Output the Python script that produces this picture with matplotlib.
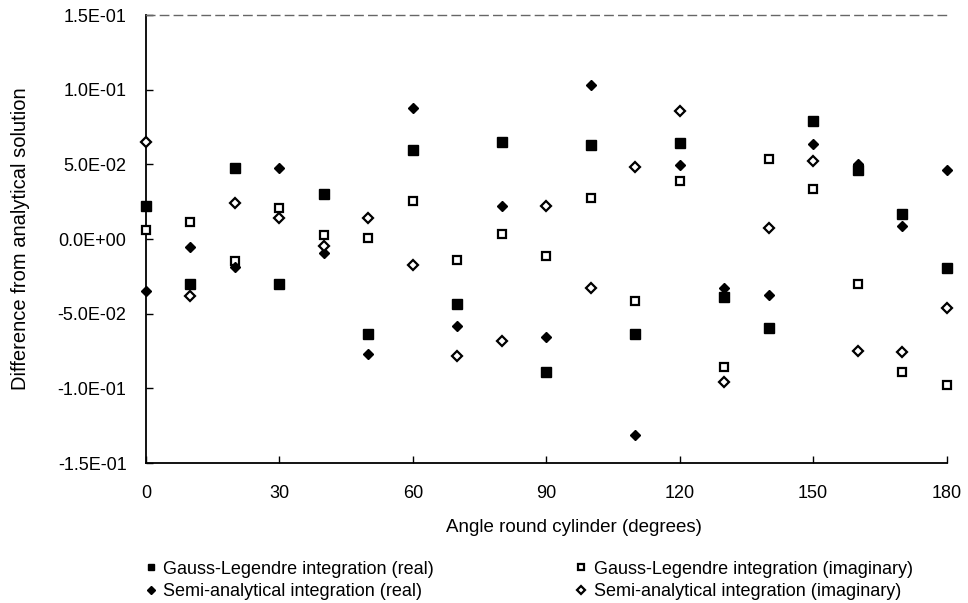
import matplotlib.pyplot as plt
from matplotlib.ticker import FuncFormatter

plt.rcParams['font.family'] = ['Liberation Sans', 'DejaVu Sans']

# Angles round the cylinder (degrees)
angle = [0, 10, 20, 30, 40, 50, 60, 70, 80, 90, 100, 110, 120, 130, 140, 150, 160, 170, 180]

# Differences from the analytical solution
gl_real = [0.0221, -0.0301, 0.0473, -0.0301, 0.0301, -0.0636, 0.0598, -0.0435, 0.0647, -0.0892,
           0.0631, -0.0636, 0.0642, -0.0390, -0.0597, 0.0791, 0.0464, 0.0167, -0.0194]
gl_imag = [0.0060, 0.0116, -0.0145, 0.0207, 0.0027, 0.0005, 0.0256, -0.0141, 0.0033, -0.0116,
           0.0272, -0.0413, 0.0390, -0.0858, 0.0535, 0.0335, -0.0301, -0.0892, -0.0975]
sa_real = [-0.0348, -0.0056, -0.0189, 0.0473, -0.0094, -0.0770, 0.0881, -0.0580, 0.0219, -0.0658,
           0.1030, -0.1311, 0.0497, -0.0328, -0.0375, 0.0640, 0.0502, 0.0089, 0.0464]
sa_imag = [0.0649, -0.0379, 0.0241, 0.0138, -0.0045, 0.0138, -0.0172, -0.0785, -0.0680, 0.0219,
           -0.0330, 0.0486, 0.0858, -0.0955, 0.0074, 0.0524, -0.0751, -0.0758, -0.0464]

fig = plt.figure(figsize=(9.68, 6.03), dpi=100)
ax = fig.add_axes([0.1508, 0.232, 0.827, 0.743])

h1, = ax.plot(angle, gl_real, ls='none', marker='s', ms=6.5, mfc='black', mec='black',
              label='Gauss-Legendre integration (real)', clip_on=False, zorder=3)
h2, = ax.plot(angle, gl_imag, ls='none', marker='s', ms=6, mfc='white', mec='black', mew=1.6,
              label='Gauss-Legendre integration (imaginary)', clip_on=False, zorder=3)
h3, = ax.plot(angle, sa_real, ls='none', marker='D', ms=5, mfc='black', mec='black',
              label='Semi-analytical integration (real)', clip_on=False, zorder=3)
h4, = ax.plot(angle, sa_imag, ls='none', marker='D', ms=5, mfc='white', mec='black', mew=1.6,
              label='Semi-analytical integration (imaginary)', clip_on=False, zorder=3)

ax.set_xlim(0, 180)
ax.set_ylim(-0.15, 0.15)
ax.set_xticks(range(0, 181, 30))
ax.set_yticks([-0.15, -0.10, -0.05, 0.0, 0.05, 0.10, 0.15])
ax.yaxis.set_major_formatter(FuncFormatter(lambda v, p: f"{v:.1E}"))
ax.tick_params(direction='in', length=5, width=1, labelsize=13, colors='black')
ax.tick_params(axis='x', pad=16)
ax.tick_params(axis='y', pad=14)

ax.spines['right'].set_visible(False)
ax.spines['top'].set_linestyle((0, (6, 4)))
ax.spines['top'].set_color('#666666')
ax.spines['top'].set_linewidth(1)
ax.spines['left'].set_linewidth(1.3)
ax.spines['bottom'].set_linewidth(1.3)

ax.set_xlabel('Angle round cylinder (degrees)', fontsize=13.5)
ax.xaxis.set_label_coords(0.534, -0.125)
ax.set_ylabel('Difference from analytical solution', fontsize=14.5, labelpad=20)

# two legend columns placed separately
leg_kw = dict(loc='upper left', frameon=False, fontsize=13, handlelength=0.5,
              handletextpad=0.45, labelspacing=0.3, markerscale=0.75,
              borderpad=0, borderaxespad=0)
leg1 = fig.legend([h1, h3], [h1.get_label(), h3.get_label()],
                  bbox_to_anchor=(0.151, 0.07), **leg_kw)
leg2 = fig.legend([h2, h4], [h2.get_label(), h4.get_label()],
                  bbox_to_anchor=(0.596, 0.07), **leg_kw)

plt.savefig('out.png', dpi=100)
